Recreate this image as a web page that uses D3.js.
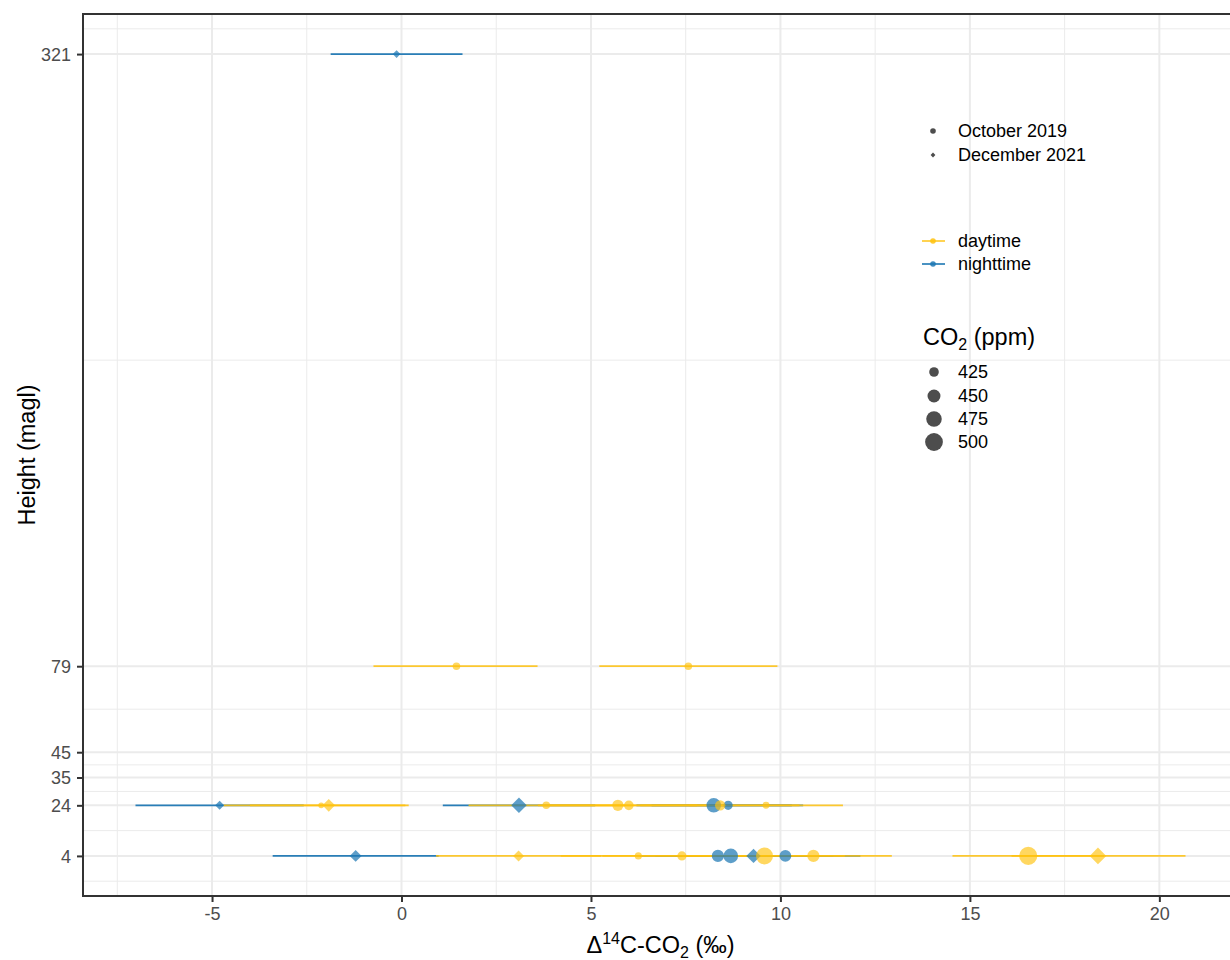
<!DOCTYPE html>
<html>
<head>
<meta charset="utf-8">
<script src="https://cdn.jsdelivr.net/npm/d3@7"></script>
<style>
  html, body { margin: 0; padding: 0; background: #fff; }
  svg { display: block; font-family: "Liberation Sans", Arial, Helvetica, sans-serif; }
</style>
</head>
<body>
<svg id="chart" width="1230" height="960"></svg>
<script>
// ---------------- data ----------------
const period   = ["night","night","night","night","night","night","night","night","night","night",
                  "day","day","day","day","day","day","day","day","day","day","day","day","day","day","day","day"];
const campaign = ["Dec","Dec","Dec","Oct","Oct","Dec","Oct","Oct","Dec","Oct",
                  "Oct","Oct","Oct","Dec","Oct","Oct","Oct","Oct","Oct","Dec","Oct","Oct","Oct","Oct","Oct","Dec"];
const height   = [321, 24, 24, 24, 24, 4, 4, 4, 4, 4,
                  79, 79, 24, 24, 24, 24, 24, 24, 24, 4, 4, 4, 4, 4, 4, 4];
const delta    = [-0.13, -4.80, 3.10, 8.24, 8.62, -1.21, 8.35, 8.69, 9.29, 10.13,
                  1.45, 7.57, -2.12, -1.92, 3.82, 5.71, 6.00, 8.41, 9.62, 3.09, 6.25, 7.40, 9.58, 10.87, 16.54, 18.38];
const deltaLow = [-1.87, -7.02, 1.09, 6.20, 6.60, -3.40, 6.30, 6.70, 7.20, 8.15,
                  -0.74, 5.22, -4.70, -4.00, 1.77, 3.60, 3.90, 6.30, 7.60, 0.91, 4.20, 5.30, 7.40, 8.80, 14.54, 16.10];
const deltaHigh= [1.61, -2.58, 5.11, 10.30, 10.60, 0.98, 10.40, 10.70, 11.40, 12.11,
                  3.59, 9.92, 0.19, 0.10, 5.90, 7.80, 8.10, 10.50, 11.65, 5.27, 8.30, 9.50, 11.70, 12.94, 18.54, 20.69];
const co2      = [418, 426, 489, 465, 422, 450, 444, 465, 476, 441,
                  413, 413, 405, 457, 413, 436, 425, 430, 410, 442, 411, 422, 490, 444, 504, 503];

const xTicks = [-5, 0, 5, 10, 15, 20];
const yTicks = [4, 24, 35, 45, 79, 321];
const campaignKeys   = ["Oct", "Dec"];
const campaignLabels = ["October 2019", "December 2021"];
const periodKeys     = ["day", "night"];
const periodLabels   = ["daytime", "nighttime"];
const co2Breaks      = [425, 450, 475, 500];

// ---------------- setup ----------------
const data = delta.map((d, i) => ({
  period: period[i], campaign: campaign[i], height: height[i],
  x: d, lo: deltaLow[i], hi: deltaHigh[i], co2: co2[i]
}));

const svg = d3.select("#chart");
const P = { left: 83, top: 14, bottom: 896 };

const lowAll = d3.min(deltaLow), highAll = d3.max(deltaHigh);
const xPad = (highAll - lowAll) * 0.05;
const x = d3.scaleLinear().domain([lowAll - xPad, highAll + xPad]).range([P.left, 1238]);

const hMin = d3.min(yTicks), hMax = d3.max(yTicks);
const yPad = (hMax - hMin) * 0.05;
const y = d3.scaleLinear().domain([hMin - yPad, hMax + yPad]).range([P.bottom, P.top]);

const size = d3.scaleRadial().domain([394, 500]).range([0, 8.9]);

const lineColor  = { day: "#FFC20E", night: "#1F78B4" };
const lineAlpha  = { day: 0.85, night: 0.95 };
const pointAlpha = { day: 0.66, night: 0.72 };

function diamond(h) { return `M0,${-h}L${h},0L0,${h}L${-h},0Z`; }
function shapePath(camp, r) {
  return camp === "Dec" ? diamond(r * 0.92) : d3.symbol(d3.symbolCircle, Math.PI * r * r)();
}

// ---------------- panel ----------------
const clipW = x.range()[1] - P.left, clipH = P.bottom - P.top;
svg.append("defs").append("clipPath").attr("id", "clip")
  .append("rect").attr("x", P.left).attr("y", P.top).attr("width", clipW).attr("height", clipH);

const panel = svg.append("g").attr("clip-path", "url(#clip)");
panel.append("rect").attr("x", P.left).attr("y", P.top).attr("width", clipW).attr("height", clipH).attr("fill", "#fff");

// minor grid
const xMinor = [];
for (let i = 0; i < xTicks.length - 1; i++) xMinor.push((xTicks[i] + xTicks[i + 1]) / 2);
xMinor.unshift(xTicks[0] - (xTicks[1] - xTicks[0]) / 2);
xMinor.push(xTicks[xTicks.length - 1] + (xTicks[1] - xTicks[0]) / 2);
const yMinor = [];
for (let i = 0; i < yTicks.length - 1; i++) yMinor.push((yTicks[i] + yTicks[i + 1]) / 2);
yMinor.unshift(yTicks[0] - (yTicks[1] - yTicks[0]) / 2);
yMinor.push(yTicks[yTicks.length - 1] + (yTicks[1] - yTicks[0]) / 2);

const gridColor = "#EBEBEB";
panel.selectAll(".xminor").data(xMinor).enter().append("line")
  .attr("x1", d => x(d)).attr("x2", d => x(d)).attr("y1", P.top).attr("y2", P.bottom)
  .attr("stroke", gridColor).attr("stroke-width", 1);
panel.selectAll(".yminor").data(yMinor).enter().append("line")
  .attr("y1", d => y(d)).attr("y2", d => y(d)).attr("x1", P.left).attr("x2", x.range()[1])
  .attr("stroke", gridColor).attr("stroke-width", 1);
panel.selectAll(".xmajor").data(xTicks).enter().append("line")
  .attr("x1", d => x(d)).attr("x2", d => x(d)).attr("y1", P.top).attr("y2", P.bottom)
  .attr("stroke", gridColor).attr("stroke-width", 2);
panel.selectAll(".ymajor").data(yTicks).enter().append("line")
  .attr("y1", d => y(d)).attr("y2", d => y(d)).attr("x1", P.left).attr("x2", x.range()[1])
  .attr("stroke", gridColor).attr("stroke-width", 2);

// error bars
panel.selectAll(".err").data(data).enter().append("line")
  .attr("x1", d => x(d.lo)).attr("x2", d => x(d.hi))
  .attr("y1", d => y(d.height)).attr("y2", d => y(d.height))
  .attr("stroke", d => lineColor[d.period]).attr("stroke-opacity", d => lineAlpha[d.period])
  .attr("stroke-width", 1.7);

// points
panel.selectAll(".pt").data(data).enter().append("path")
  .attr("transform", d => `translate(${x(d.x)},${y(d.height)})`)
  .attr("d", d => shapePath(d.campaign, size(d.co2)))
  .attr("fill", d => lineColor[d.period]).attr("fill-opacity", d => pointAlpha[d.period]);

// border
svg.append("rect").attr("x", P.left).attr("y", P.top).attr("width", clipW).attr("height", clipH)
  .attr("fill", "none").attr("stroke", "#333333").attr("stroke-width", 2);

// ---------------- axes ----------------
const fmt = d => String(d);
const xAxis = svg.append("g").attr("transform", `translate(0,${P.bottom})`)
  .call(d3.axisBottom(x).tickValues(xTicks).tickSize(6).tickPadding(5).tickFormat(fmt));
const yAxis = svg.append("g").attr("transform", `translate(${P.left},0)`)
  .call(d3.axisLeft(y).tickValues(yTicks).tickSize(6).tickPadding(6).tickFormat(fmt));
[xAxis, yAxis].forEach(g => {
  g.select(".domain").remove();
  g.selectAll(".tick line").attr("stroke", "#333333").attr("stroke-width", 2);
  g.selectAll(".tick text").attr("fill", "#4D4D4D").attr("font-size", "18px")
    .attr("font-family", "Liberation Sans, Arial, sans-serif");
});
yAxis.selectAll(".tick text").attr("dy", "0.35em");

// axis titles
const xt = svg.append("text").attr("x", (P.left + x.range()[1]) / 2).attr("y", 953)
  .attr("text-anchor", "middle").attr("font-size", "23.5px").attr("fill", "#000");
xt.append("tspan").text("Δ");
xt.append("tspan").attr("font-size", "16px").attr("dy", "-9").text("14");
xt.append("tspan").attr("dy", "9").text("C-CO");
xt.append("tspan").attr("font-size", "16px").attr("dy", "5").text("2");
xt.append("tspan").attr("dy", "-5").text(" (‰)");

svg.append("text").attr("transform", `translate(35,${(P.top + P.bottom) / 2}) rotate(-90)`)
  .attr("text-anchor", "middle").attr("font-size", "23.5px").attr("fill", "#000")
  .text("Height (magl)");

// ---------------- legends ----------------
const legendTextX = 958, keyX = 933, txtSize = "18px";
// shape legend
const shapeY = [131, 155];
campaignKeys.forEach((k, i) => {
  svg.append("path").attr("transform", `translate(${keyX},${shapeY[i]})`)
    .attr("d", k === "Dec" ? diamond(2.4) : d3.symbol(d3.symbolCircle, Math.PI * 2.8 * 2.8)())
    .attr("fill", "#4D4D4D");
  svg.append("text").attr("x", legendTextX).attr("y", shapeY[i]).attr("dy", "0.35em")
    .attr("font-size", txtSize).attr("fill", "#000").text(campaignLabels[i]);
});
// colour legend
const colY = [241, 264];
periodKeys.forEach((k, i) => {
  svg.append("line").attr("x1", 922).attr("x2", 945).attr("y1", colY[i]).attr("y2", colY[i])
    .attr("stroke", lineColor[k]).attr("stroke-opacity", lineAlpha[k]).attr("stroke-width", 1.7);
  svg.append("circle").attr("cx", keyX).attr("cy", colY[i]).attr("r", 2.8)
    .attr("fill", lineColor[k]).attr("fill-opacity", 0.85);
  svg.append("text").attr("x", legendTextX).attr("y", colY[i]).attr("dy", "0.35em")
    .attr("font-size", txtSize).attr("fill", "#000").text(periodLabels[i]);
});
// size legend
const st = svg.append("text").attr("x", 923).attr("y", 345).attr("font-size", "23.5px").attr("fill", "#000");
st.append("tspan").text("CO");
st.append("tspan").attr("font-size", "16px").attr("dy", "5").text("2");
st.append("tspan").attr("dy", "-5").text(" (ppm)");
const sizeY = [372, 396, 419, 442];
co2Breaks.forEach((b, i) => {
  svg.append("circle").attr("cx", 934).attr("cy", sizeY[i]).attr("r", size(b)).attr("fill", "#4D4D4D");
  svg.append("text").attr("x", legendTextX).attr("y", sizeY[i]).attr("dy", "0.35em")
    .attr("font-size", txtSize).attr("fill", "#000").text(b);
});
</script>
</body>
</html>
